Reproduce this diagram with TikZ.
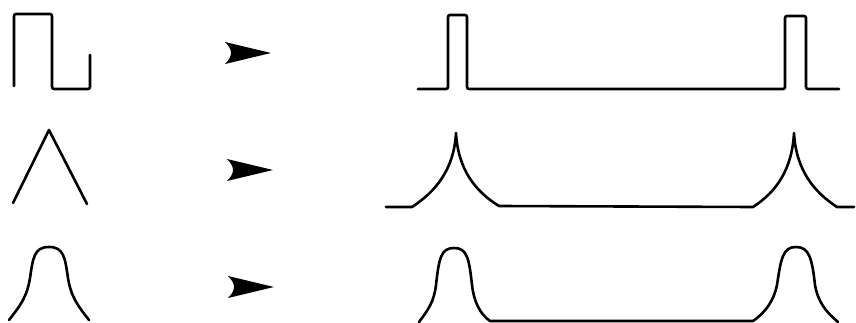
\documentclass[tikz,border=0pt]{standalone}
\usepackage{tikz}

\tikzset{
  wave/.style={line width=2.6pt, line join=round, line cap=round},
  pulse/.style={wave, rounded corners=2pt},
}

\begin{document}
\begin{tikzpicture}[x=1pt,y=-1pt]
  \useasboundingbox (0,0) rectangle (856,323);
  % single shapes
  \draw[pulse] (14,86)--(14,14)--(52,14)--(52,89)--(90,89)--(90,55);
  \draw[wave] (13,203)--(49,130)--(87,204);
  \draw[wave] (9,320) .. controls (20,306) and (27,297) .. (30,278)
    .. controls (33,258) and (34,247) .. (49,247)
    .. controls (64,247) and (65,258) .. (68,278)
    .. controls (71,297) and (78,306) .. (89,320);
  % arrowheads
  \foreach \x/\y in {225/53,227/170,228/287}
    \fill (\x+46,\y) -- (\x,\y-11) .. controls (\x+8,\y-3) and (\x+8,\y+3) .. (\x,\y+11) -- cycle;
  % periodic trains
  \draw[pulse] (418,89)--(448,89)--(448,15)--(467,15)--(467,89)
    --(785,89)--(785,16)--(806,16)--(806,89)--(839,89);
  \draw[wave] (386,207)--(412,207)
    .. controls (435,192) and (454,170) .. (456,133)
    .. controls (458,170) and (476,192) .. (499,206)
    --(753,207)
    .. controls (776,192) and (792,170) .. (794,133)
    .. controls (796,170) and (814,192) .. (837,207)
    --(854,207);
  \draw[wave] (419,322) .. controls (428,310) and (434,302) .. (436,285)
    .. controls (439,258) and (441,248) .. (454,248)
    .. controls (467,248) and (469,258) .. (472,285)
    .. controls (474,302) and (480,314) .. (490,321)
    --(753,321)
    .. controls (766,312) and (774,300) .. (777,285)
    .. controls (781,258) and (783,247) .. (796,247)
    .. controls (809,247) and (812,258) .. (815,285)
    .. controls (818,302) and (826,312) .. (838,322);
\end{tikzpicture}
\end{document}
